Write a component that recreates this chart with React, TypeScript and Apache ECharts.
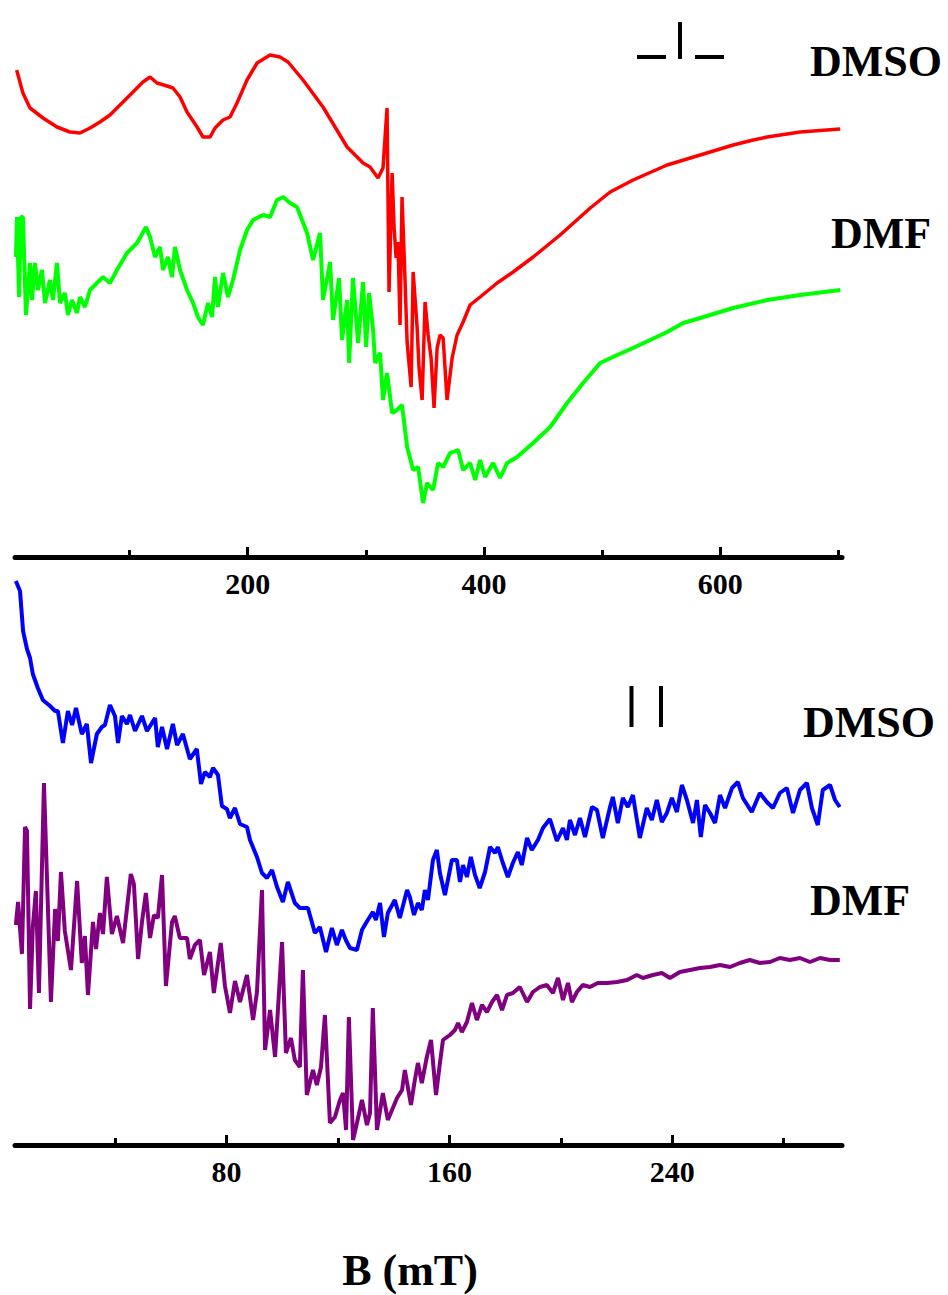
import React, { useEffect, useRef } from "react";
import * as echarts from "echarts";

// ---- axis ticks / labels ----
const topMajorTicks = [200, 400, 600];
const topMinorTicks = [100, 300, 500, 700];
const bottomMajorTicks = [80, 160, 240];
const bottomMinorTicks = [40, 120, 200, 280];

// ---- upper panel: B (mT), intensity (arb. units) ----
const dmsoUpper: number[][] = [
  [4.4, 487], [9.7, 464], [15.7, 449], [26.7, 439], [38.5, 430], [49.5, 425], [58.0, 424], [66.5, 429],
  [74.9, 435], [83.4, 442], [91.9, 452], [102.9, 465], [111.3, 475], [117.3, 480], [123.2, 474], [131.7, 471],
  [136.7, 469], [142.7, 460], [148.6, 445], [157.1, 430], [162.1, 420], [168.1, 420], [172.3, 429], [179.1, 437],
  [185.0, 440], [190.9, 454], [199.4, 477], [207.9, 494], [218.9, 502], [227.3, 500], [234.1, 495], [246.8, 477],
  [263.7, 450], [284.1, 410], [297.6, 394], [303.5, 390], [310.3, 379], [314.5, 389], [317.9, 449], [319.6, 265],
  [322.2, 384], [323.9, 329], [325.6, 299], [327.2, 315], [328.9, 232], [330.6, 360], [333.2, 275], [334.9, 215],
  [338.3, 170], [340.0, 285], [343.4, 229], [345.0, 189], [347.6, 157], [350.1, 255], [352.7, 222], [355.2, 199],
  [357.7, 149], [360.3, 209], [362.8, 222], [365.4, 219], [368.7, 157], [373.0, 199], [377.2, 222], [382.3, 235],
  [388.2, 252], [396.7, 260], [411.1, 274], [424.6, 285], [441.6, 300], [464.4, 322], [489.9, 349], [506.8, 365],
  [526.2, 377], [555.0, 392], [583.0, 402], [610.9, 412], [627.8, 417], [639.7, 420], [667.6, 425], [701.5, 428],
];

const dmfUpper: number[][] = [
  [3.8, 300], [4.7, 340], [6.4, 260], [8.0, 340], [9.7, 340], [12.3, 242], [15.7, 294], [17.4, 257],
  [19.9, 294], [22.4, 267], [25.8, 287], [28.4, 254], [32.6, 277], [35.1, 257], [38.5, 294], [41.1, 254],
  [45.3, 264], [47.8, 242], [51.2, 257], [55.5, 244], [58.0, 260], [62.2, 250], [66.5, 267], [72.4, 274],
  [77.5, 280], [83.4, 274], [89.3, 287], [97.8, 304], [106.3, 314], [113.9, 330], [117.3, 320], [121.5, 300],
  [125.7, 310], [128.3, 287], [132.5, 300], [135.9, 280], [138.4, 310], [142.7, 287], [148.6, 267], [153.7, 254],
  [157.9, 240], [162.1, 232], [166.4, 254], [169.8, 240], [172.3, 280], [174.8, 250], [179.1, 284], [183.3, 260],
  [187.5, 277], [193.5, 307], [199.4, 327], [204.5, 337], [212.9, 342], [218.9, 340], [224.8, 357], [229.9, 360],
  [235.8, 354], [241.7, 350], [250.2, 324], [255.3, 297], [261.2, 324], [263.7, 257], [269.7, 295], [272.2, 237],
  [277.3, 279], [279.8, 217], [284.1, 257], [285.8, 194], [289.1, 279], [293.4, 214], [297.6, 275], [300.2, 210],
  [302.7, 264], [306.1, 227], [307.8, 194], [312.0, 204], [314.5, 157], [317.9, 184], [322.2, 144], [326.4, 147],
  [330.6, 152], [334.9, 110], [340.0, 87], [344.2, 90], [348.4, 54], [351.8, 74], [356.9, 67], [361.1, 94],
  [365.4, 90], [371.3, 104], [378.1, 107], [382.3, 87], [388.2, 94], [392.5, 77], [396.7, 97], [400.9, 80],
  [407.7, 94], [413.6, 79], [419.5, 94], [428.0, 100], [441.6, 114], [456.0, 130], [470.3, 154], [483.9, 174],
  [498.3, 194], [512.7, 202], [526.2, 209], [540.6, 217], [555.0, 225], [568.6, 234], [583.0, 239], [610.9, 249],
  [639.7, 257], [667.6, 262], [701.5, 267],
];

// ---- lower panel ----
const dmsoLower: number[][] = [
  [4.3, 564], [5.8, 554], [6.9, 514], [8.3, 496], [9.4, 487], [10.4, 471], [12.2, 457], [14.0, 445],
  [16.6, 439], [18.4, 434], [19.4, 434], [21.2, 402], [23.0, 434], [24.5, 420], [25.9, 437], [28.0, 411],
  [29.8, 421], [31.3, 382], [33.4, 411], [35.2, 418], [36.3, 420], [38.1, 440], [39.9, 429], [41.0, 402],
  [42.4, 429], [44.2, 421], [45.3, 430], [47.1, 414], [49.6, 429], [51.4, 414], [54.3, 427], [55.3, 398],
  [56.8, 418], [58.6, 396], [60.7, 421], [62.2, 400], [64.3, 411], [66.8, 386], [69.3, 396], [70.8, 361],
  [72.2, 373], [74.0, 368], [75.1, 377], [76.9, 370], [78.3, 339], [80.1, 336], [81.2, 327], [83.0, 337],
  [84.8, 321], [87.3, 318], [88.4, 305], [90.9, 288], [92.7, 272], [94.5, 267], [96.3, 275], [98.1, 258],
  [100.2, 243], [102.0, 263], [104.5, 242], [106.3, 237], [109.2, 237], [111.7, 212], [113.5, 218], [115.7, 193],
  [117.8, 217], [119.6, 200], [121.4, 215], [122.8, 205], [124.3, 197], [126.8, 195], [128.6, 215], [130.7, 225],
  [132.5, 233], [133.6, 225], [135.1, 242], [136.5, 208], [137.9, 232], [140.4, 245], [142.2, 227], [144.8, 255],
  [145.8, 248], [147.3, 230], [148.7, 242], [150.1, 235], [151.2, 255], [152.3, 245], [154.1, 285], [155.5, 295],
  [156.6, 272], [158.4, 250], [160.9, 285], [162.7, 285], [163.8, 263], [164.9, 280], [166.3, 268], [167.7, 288],
  [169.2, 270], [170.9, 257], [172.8, 273], [174.6, 298], [176.4, 292], [177.4, 298], [179.2, 282], [181.0, 268],
  [182.8, 282], [184.6, 293], [186.0, 280], [187.9, 307], [189.6, 295], [191.8, 305], [193.6, 317], [196.1, 326],
  [198.6, 304], [200.8, 317], [202.2, 305], [203.3, 325], [205.1, 310], [206.9, 327], [208.7, 308], [211.2, 338],
  [213.0, 335], [215.1, 307], [217.7, 338], [218.7, 348], [220.5, 322], [222.3, 347], [224.1, 338], [225.9, 350],
  [228.4, 307], [230.9, 337], [232.7, 325], [234.5, 345], [236.3, 323], [238.1, 332], [239.9, 347], [241.7, 333],
  [243.5, 360], [245.3, 345], [247.5, 322], [248.9, 345], [250.3, 308], [251.8, 340], [253.6, 332], [255.4, 322],
  [257.2, 350], [259.0, 337], [261.5, 357], [263.6, 363], [265.4, 347], [268.6, 333], [271.5, 352], [274.0, 343],
  [276.2, 337], [278.7, 352], [281.2, 357], [283.4, 332], [285.9, 355], [288.4, 362], [290.2, 337], [292.3, 320],
  [294.1, 355], [296.7, 360], [298.5, 345], [300.2, 338],
];

const dmfLower: number[][] = [
  [4.3, 220], [5.1, 243], [6.5, 191], [7.6, 318], [8.3, 314], [9.4, 136], [10.4, 218], [11.5, 254],
  [12.6, 152], [14.4, 362], [16.9, 143], [18.4, 236], [19.4, 204], [20.5, 273], [21.9, 214], [24.1, 175],
  [26.3, 264], [28.0, 182], [29.1, 209], [30.2, 150], [32.0, 223], [33.1, 196], [34.5, 232], [35.6, 211],
  [37.0, 268], [38.8, 211], [40.6, 229], [42.8, 202], [45.6, 271], [46.7, 261], [48.2, 186], [49.6, 223],
  [51.0, 252], [52.5, 207], [53.9, 230], [55.3, 227], [56.8, 270], [58.2, 159], [60.4, 223], [61.4, 229],
  [63.2, 207], [65.8, 207], [66.8, 186], [68.6, 200], [70.4, 205], [71.9, 170], [74.0, 193], [75.4, 152],
  [77.9, 202], [79.4, 159], [81.2, 132], [83.0, 164], [84.8, 143], [87.3, 170], [89.5, 125], [90.9, 153],
  [92.7, 255], [93.8, 95], [95.6, 135], [97.4, 88], [99.9, 203], [101.3, 92], [103.1, 107], [104.5, 85],
  [106.3, 78], [107.4, 175], [108.8, 50], [111.0, 75], [112.4, 60], [113.9, 78], [115.3, 130], [117.1, 22],
  [118.9, 28], [120.7, 45], [121.8, 52], [122.9, 15], [123.9, 128], [125.4, 5], [126.8, 22], [128.6, 45],
  [130.4, 20], [131.5, 32], [132.5, 137], [134.0, 15], [136.1, 52], [137.9, 25], [139.4, 35], [141.2, 47],
  [143.0, 55], [144.0, 75], [146.2, 40], [147.6, 65], [148.7, 82], [150.1, 62], [151.9, 88], [153.4, 105],
  [155.2, 50], [156.6, 82], [157.7, 105], [160.2, 110], [162.0, 115], [163.1, 122], [164.5, 113], [166.3, 123],
  [168.1, 142], [169.9, 125], [171.7, 140], [173.5, 133], [175.3, 143], [177.1, 150], [178.9, 135], [180.7, 150],
  [182.8, 152], [185.3, 158], [187.9, 143], [190.0, 153], [192.5, 158], [195.0, 160], [197.2, 152], [199.0, 167],
  [200.8, 145], [202.6, 162], [204.0, 143], [205.8, 153], [207.9, 160], [210.5, 158], [213.3, 162], [216.6, 162],
  [220.2, 163], [223.8, 165], [227.3, 170], [229.5, 167], [233.1, 170], [236.3, 172], [239.2, 167], [242.8, 173],
  [246.4, 175], [250.0, 177], [253.6, 178], [257.2, 180], [260.8, 178], [264.3, 182], [267.9, 185], [271.5, 182],
  [275.1, 183], [278.7, 187], [282.3, 185], [285.9, 187], [289.5, 183], [293.1, 187], [296.7, 185], [300.2, 185],
];

const FONT = '"Liberation Serif", "Times New Roman", serif';

function makeXAxis(grid: number, min: number, max: number, ticks: number[], major: boolean) {
  return {
    type: "value",
    gridIndex: grid,
    min,
    max,
    position: "bottom",
    axisLine: {
      show: major,
      onZero: false,
      lineStyle: { color: "#000", width: 5, cap: "round" },
    },
    axisTick: {
      show: true,
      inside: true,
      length: major ? 10 : 7,
      customValues: ticks,
      lineStyle: { color: "#000", width: 3 },
    },
    axisLabel: {
      show: major,
      customValues: ticks,
      margin: 11,
      color: "#000",
      fontFamily: FONT,
      fontWeight: "bold",
      fontSize: 30,
    },
    splitLine: { show: false },
  };
}

function labelText(text: string, x: number, y: number, size = 44) {
  return {
    type: "text",
    x,
    y,
    style: {
      text,
      fill: "#000",
      font: `bold ${size}px ${FONT}`,
      textAlign: "left",
      textVerticalAlign: "middle",
    },
  };
}

function bar(x1: number, y1: number, x2: number, y2: number) {
  return {
    type: "line",
    shape: { x1, y1, x2, y2 },
    style: { stroke: "#000", lineWidth: 4 },
  };
}

export default function App() {
  const ref = useRef<HTMLDivElement>(null);

  useEffect(() => {
    document.body.style.margin = "0";
    if (!ref.current) return;
    const chart = echarts.init(ref.current, undefined, { renderer: "svg" });
    chart.setOption({
      animation: false,
      backgroundColor: "#fff",
      grid: [
        { left: 15, top: 0, width: 827, height: 557 },
        { left: 15, top: 570, width: 827, height: 575 },
      ],
      xAxis: [
        makeXAxis(0, 3, 703, topMajorTicks, true),
        makeXAxis(0, 3, 703, topMinorTicks, false),
        makeXAxis(1, 4, 301, bottomMajorTicks, true),
        makeXAxis(1, 4, 301, bottomMinorTicks, false),
      ],
      yAxis: [
        { type: "value", gridIndex: 0, min: 0, max: 557, show: false },
        { type: "value", gridIndex: 1, min: 0, max: 575, show: false },
      ],
      series: [
        { name: "DMSO", type: "line", xAxisIndex: 0, yAxisIndex: 0, data: dmsoUpper, showSymbol: false,
          lineStyle: { color: "#ff0000", width: 3.5 }, clip: false },
        { name: "DMF", type: "line", xAxisIndex: 0, yAxisIndex: 0, data: dmfUpper, showSymbol: false,
          lineStyle: { color: "#00ff00", width: 4 }, clip: false },
        { name: "DMSO ", type: "line", xAxisIndex: 2, yAxisIndex: 1, data: dmsoLower, showSymbol: false,
          lineStyle: { color: "#0000ff", width: 4 }, clip: false },
        { name: "DMF ", type: "line", xAxisIndex: 2, yAxisIndex: 1, data: dmfLower, showSymbol: false,
          lineStyle: { color: "#800080", width: 4 }, clip: false },
      ],
      graphic: [
        labelText("DMSO", 810, 61),
        labelText("DMF", 831, 233),
        labelText("DMSO", 803, 722),
        labelText("DMF", 810, 900),
        {
          type: "text",
          x: 410,
          y: 1270,
          style: {
            text: "B (mT)",
            fill: "#000",
            font: `bold 44px ${FONT}`,
            textAlign: "center",
            textVerticalAlign: "middle",
          },
        },
        bar(637, 57, 666, 57),
        bar(680, 22, 680, 59),
        bar(695, 57, 724, 57),
        bar(631.5, 686, 631.5, 727),
        bar(661, 686, 661, 727),
      ],
    });
    return () => chart.dispose();
  }, []);

  return <div ref={ref} style={{ width: 948, height: 1295 }} />;
}
